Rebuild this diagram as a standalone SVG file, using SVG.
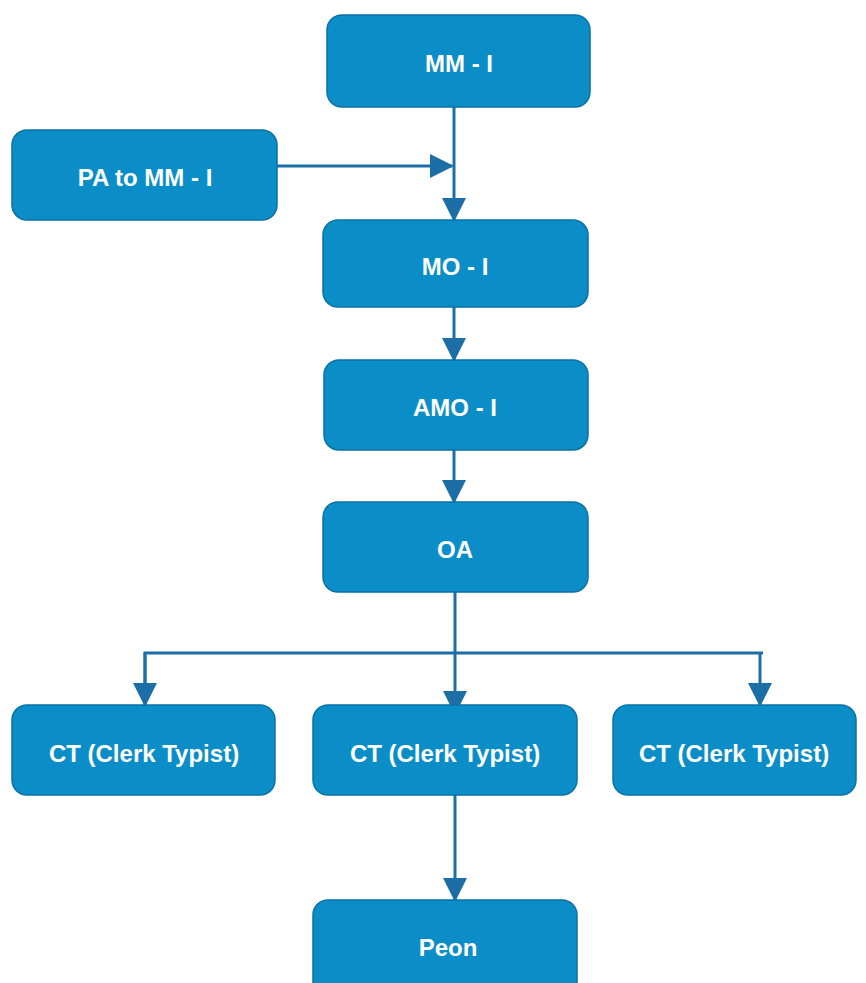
<svg xmlns="http://www.w3.org/2000/svg" width="866" height="983" viewBox="0 0 866 983">
<defs>
<marker id="ah" markerUnits="userSpaceOnUse" markerWidth="24" markerHeight="24" refX="22" refY="12" orient="auto" viewBox="0 0 24 24">
<path d="M0,0 L24,12 L0,24 Z" fill="#1c6fa6"/>
</marker>
<style>
.box{fill:#0b8ec8;stroke:#0a72a4;stroke-width:1.5}
.lbl{font-family:"Liberation Sans",Arial,sans-serif;font-weight:bold;font-size:24px;fill:#ffffff;text-anchor:middle;dominant-baseline:central}
.ln{stroke:#1c6fa6;stroke-width:3;fill:none}
</style>
</defs>
<rect width="866" height="983" fill="#ffffff"/>
<g id="connectors">
<line class="ln" x1="454" y1="107" x2="454" y2="220" marker-end="url(#ah)"/>
<line class="ln" x1="277" y1="166" x2="452" y2="166" marker-end="url(#ah)"/>
<line class="ln" x1="454" y1="307" x2="454" y2="360" marker-end="url(#ah)"/>
<line class="ln" x1="454" y1="450" x2="454" y2="502" marker-end="url(#ah)"/>
<line class="ln" x1="455" y1="592" x2="455" y2="713" marker-end="url(#ah)"/>
<polyline class="ln" points="145,705 145,653 763,653"/>
<line class="ln" x1="145" y1="653" x2="145" y2="705" marker-end="url(#ah)"/>
<line class="ln" x1="760" y1="653" x2="760" y2="705" marker-end="url(#ah)"/>
<line class="ln" x1="455" y1="795" x2="455" y2="900" marker-end="url(#ah)"/>
</g>
<g id="mm1"><rect class="box" x="327" y="15" width="263" height="92" rx="15"/><text class="lbl" x="459" y="63">MM - I</text></g>
<g id="pa"><rect class="box" x="12" y="130" width="265" height="90" rx="15"/><text class="lbl" x="145" y="177">PA to MM - I</text></g>
<g id="mo1"><rect class="box" x="323" y="220" width="265" height="87" rx="15"/><text class="lbl" x="455" y="266">MO - I</text></g>
<g id="amo1"><rect class="box" x="324" y="360" width="264" height="90" rx="15"/><text class="lbl" x="455" y="407">AMO - I</text></g>
<g id="oa"><rect class="box" x="323" y="502" width="265" height="90" rx="15"/><text class="lbl" x="455" y="549">OA</text></g>
<g id="ct1"><rect class="box" x="12" y="705" width="263" height="90" rx="15"/><text class="lbl" x="144" y="753">CT (Clerk Typist)</text></g>
<g id="ct2"><rect class="box" x="313" y="705" width="264" height="90" rx="15"/><text class="lbl" x="445" y="753">CT (Clerk Typist)</text></g>
<g id="ct3"><rect class="box" x="613" y="705" width="243" height="90" rx="15"/><text class="lbl" x="734" y="753">CT (Clerk Typist)</text></g>
<g id="peon"><rect class="box" x="313" y="900" width="264" height="100" rx="15"/><text class="lbl" x="448" y="947">Peon</text></g>
</svg>
